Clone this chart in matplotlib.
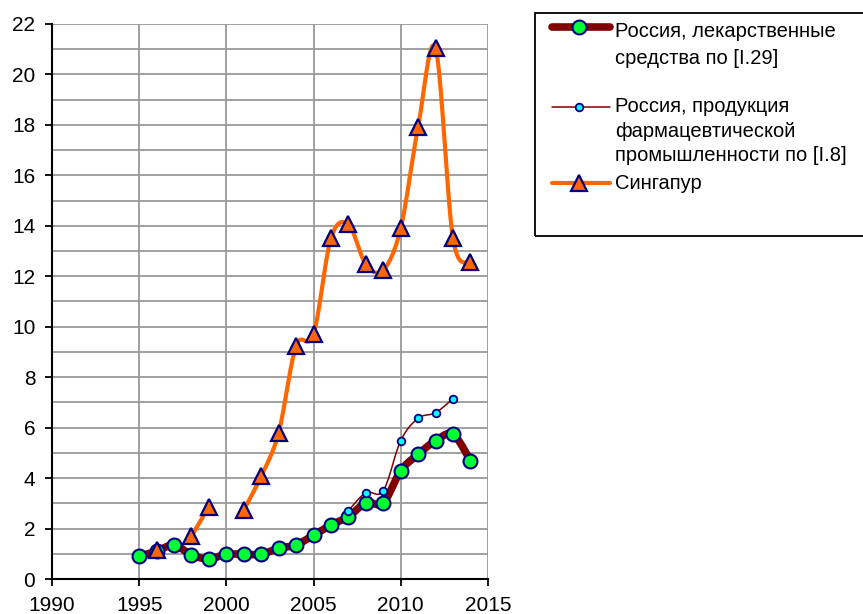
import numpy as np
import matplotlib.pyplot as plt
from matplotlib.lines import Line2D
from matplotlib.patches import Rectangle

plt.rcParams['font.family'] = ['Liberation Sans', 'DejaVu Sans']

years = np.arange(1995, 2015)
drugs = [0.9, 1.1, 1.35, 0.95, 0.8, 0.98, 0.98, 0.98, 1.22, 1.35,
         1.74, 2.14, 2.47, 3.02, 3.02, 4.29, 4.94, 5.48, 5.73, 4.69]
pharma_years = np.arange(2007, 2014)
pharma = [2.71, 3.42, 3.5, 5.48, 6.37, 6.59, 7.15]
sing_years = np.arange(1996, 2015)
singapore = [1.15, np.nan, 1.7, 2.87, np.nan, 2.73, 4.08, 5.8, 9.24, 9.7,
             13.5, 14.06, 12.47, 12.25, 13.9, 17.93, 21.03, 13.5, 12.55]

labels = ['Россия, лекарственные\nсредства по [I.29]',
          'Россия, продукция\nфармацевтической\nпромышленности по [I.8]',
          'Сингапур']


def smooth(x, y, n=20):
    # Excel-like smoothed line (Catmull-Rom), broken at missing values
    x = np.asarray(x, float)
    y = np.asarray(y, float)
    xs, ys = [], []
    ok = ~np.isnan(y)
    idx = np.where(ok)[0]
    runs = np.split(idx, np.where(np.diff(idx) != 1)[0] + 1)
    for r in runs:
        px, py = x[r], y[r]
        if len(px) == 1:
            xs += [px[0], np.nan]; ys += [py[0], np.nan]
            continue
        P = np.column_stack([px, py])
        P = np.vstack([P[0], P, P[-1]])
        for i in range(1, len(P) - 2):
            p0, p1, p2, p3 = P[i - 1], P[i], P[i + 1], P[i + 2]
            c1 = p1 + (p2 - p0) / 6
            c2 = p2 - (p3 - p1) / 6
            t = np.linspace(0, 1, n)[:, None]
            b = ((1 - t) ** 3 * p1 + 3 * (1 - t) ** 2 * t * c1
                 + 3 * (1 - t) * t ** 2 * c2 + t ** 3 * p2)
            xs += list(b[:, 0]); ys += list(b[:, 1])
        xs.append(np.nan); ys.append(np.nan)
    return np.array(xs), np.array(ys)


fig = plt.figure(figsize=(8.63, 6.14), dpi=100)
ax = fig.add_axes([0.0603, 0.057, 0.505, 0.904])

ax.set_xlim(1990, 2015)
ax.set_ylim(0, 22)
ax.set_xticks(range(1990, 2016, 5))
ax.set_yticks(range(0, 23, 2))
ax.set_yticks(range(1, 22, 2), minor=True)
ax.grid(True, which='both', color='#999999', lw=1.3)
ax.set_axisbelow(True)
ax.tick_params(axis='both', labelsize=15, direction='out', length=5, width=1.3,
               colors='black', pad=7)
ax.tick_params(axis='y', which='minor', length=0)
for s in ['top', 'right']:
    ax.spines[s].set_visible(False)
for s in ['left', 'bottom']:
    ax.spines[s].set_linewidth(1.5)

styles = [
    dict(color='#800000', lw=5.5, marker='o', ms=10, mfc='#00ff33', mec='#000080', mew=1.5),
    dict(color='#800000', lw=1.1, marker='o', ms=5.5, mfc='#00ffff', mec='#000080', mew=1.3),
    dict(color='#ff6600', lw=3, marker='^', ms=11, mfc='#ff6600', mec='#000080', mew=1.6),
]
series = [(years, drugs), (pharma_years, pharma), (sing_years, singapore)]

for (x, y), st in zip(series, styles):
    sx, sy = smooth(x, y)
    ax.plot(sx, sy, color=st['color'], lw=st['lw'], solid_capstyle='round', zorder=3)
    ax.plot(x, y, ls='none', marker=st['marker'], ms=st['ms'], mfc=st['mfc'],
            mec=st['mec'], mew=st['mew'], zorder=4)

# legend drawn by hand
W, H = 863, 614
fig.patches.append(Rectangle((535 / W, 1 - 236 / H), 340 / W, 223 / H, transform=fig.transFigure,
                             fill=False, ec='black', lw=1.3))
entry_y = [27, 107, 183]
text_top = [22, 97, 174]
spacing = [1.5, 1.38, 1.4]
for yy, ty, ls, lab, st in zip(entry_y, text_top, spacing, labels, styles):
    fy = 1 - yy / H
    fig.add_artist(Line2D([552 / W, 610 / W], [fy, fy], transform=fig.transFigure,
                          color=st['color'], lw=st['lw'], solid_capstyle='round'))
    fig.add_artist(Line2D([579 / W], [fy], transform=fig.transFigure, ls='none',
                          marker=st['marker'], ms=st['ms'], mfc=st['mfc'],
                          mec=st['mec'], mew=st['mew']))
    fig.text(615 / W, 1 - ty / H, lab, fontsize=14.5, va='top', ha='left',
             linespacing=ls, transform=fig.transFigure)

fig.savefig('out.png', dpi=100)
